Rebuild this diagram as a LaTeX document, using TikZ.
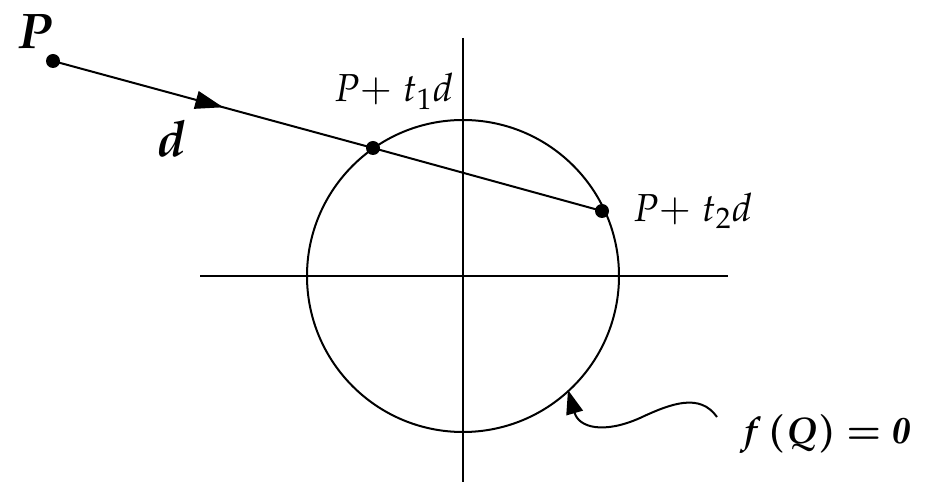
\documentclass[tikz,border=0pt]{standalone}
\usepackage{mathpazo}
\usepackage{bm}
\usepackage{tikz}
\usetikzlibrary{arrows.meta,decorations.markings}

\begin{document}
\begin{tikzpicture}[
  x=0.5pt, y=-0.5pt,
  line width=1pt,
  dot/.style={circle, fill=black, inner sep=0pt, minimum size=7pt},
  lbl/.style={inner sep=0pt, font=\fontsize{19.5}{22}\selectfont},
  biglbl/.style={inner sep=0pt, font=\fontsize{25}{28}\selectfont},
  eqlbl/.style={inner sep=0pt, font=\fontsize{18.5}{22}\selectfont},
  ray/.style={postaction={decorate}, decoration={markings,
    mark=at position 0.31 with {\arrow{Triangle[length=14pt,width=9pt]}}}},
  wavy/.style={-{Triangle[length=12pt,width=8.5pt]}}
  ]

\fill[white] (0,0) rectangle (928,486);
\useasboundingbox (0,0) rectangle (928,486);

\coordinate (O) at (463,276);
\coordinate (xleft) at (200,276);
\coordinate (xright) at (728,276);
\coordinate (ytop) at (463,38);
\coordinate (ybottom) at (463,482);

\draw (xleft) -- (xright);
\draw (ytop) -- (ybottom);
\draw (O) circle[radius=156];

\node[dot] (P) at (53,61) {};
\node[dot] (hit1) at (373,148) {};
\node[dot] (hit2) at (602,211) {};

\draw[ray] (P.center) -- (hit1.center) -- (hit2.center);

\node[biglbl] (Plabel) at (35,32) {$\bm{P}$};
\node[biglbl] (dlabel) at (171,139) {$\bm{d}$};
\node[lbl, anchor=base west] (hit1label) at (333,102) {$P{+}\;t_1d$};
\node[lbl, anchor=base west] (hit2label) at (632,222) {$P{+}\;t_2d$};
\node[eqlbl, anchor=base west] (eqlabel) at (738,444) {$\bm{f\,(Q) = \mathit{0}}$};

\coordinate (wstart) at (717,417);
\coordinate (wtip) at (568,390);
\draw[wavy] (wstart) .. controls (700,393) and (672,403) .. (640,418)
  .. controls (604,434) and (579,428) .. (wtip);

\end{tikzpicture}
\end{document}
